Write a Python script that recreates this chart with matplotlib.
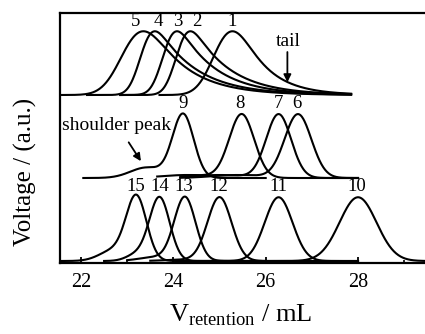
import numpy as np
import matplotlib
matplotlib.use('Agg')
import matplotlib.pyplot as plt
from matplotlib.ticker import MultipleLocator
from math import erfc

plt.rcParams['font.family'] = 'Liberation Serif'
plt.rcParams['mathtext.fontset'] = 'custom'
plt.rcParams['mathtext.rm'] = 'Liberation Serif'

# peak height of every trace (a.u.) and the offsets of the three stacks
peak_height = 2.55
top_base = 6.72
mid_base = 3.40
bot_base = 0.08

# top stack: tailing peaks 1-5
top_labels = ['1', '2', '3', '4', '5']
top_modes = [25.28, 24.37, 24.08, 23.60, 23.35]
top_sigmas = [0.32, 0.21, 0.21, 0.21, 0.36]
top_taus = [0.60, 0.80, 0.80, 0.85, 0.80]
top_starts = [23.70, 22.85, 22.85, 22.13, 21.55]
top_ends = [27.85, 27.85, 27.85, 27.85, 27.85]
top_label_x = [25.27, 24.51, 24.10, 23.67, 23.19]

# middle stack: peaks 6-9, 9 has a shoulder on the front side
mid_labels = ['6', '7', '8', '9']
mid_modes = [26.70, 26.28, 25.48, 24.21]
mid_sigmas = [0.29, 0.27, 0.27, 0.23]
mid_starts = [24.15, 24.15, 23.65, 22.05]
mid_ends = [28.0, 28.0, 28.0, 26.0]
mid_label_x = [26.68, 26.27, 25.45, 24.21]
# small front components (centre, sigma, height) for each middle trace
mid_front_c = [25.40, 25.00, 24.30, 23.42]
mid_front_s = [0.55, 0.55, 0.55, 0.35]
mid_front_h = [0.12, 0.12, 0.12, 0.42]

# bottom stack: peaks 10-15
bot_labels = ['10', '11', '12', '13', '14', '15']
bot_modes = [28.0, 26.28, 25.0, 24.25, 23.70, 23.20]
bot_sigmas = [0.40, 0.30, 0.26, 0.23, 0.22, 0.22]
bot_starts = [26.0, 24.5, 23.5, 23.0, 22.5, 21.55]
bot_ends = [29.9, 28.0, 28.0, 26.0, 26.0, 25.9]
bot_label_x = [27.98, 26.27, 24.99, 24.23, 23.71, 23.19]
bot_front_c = [27.0, 25.3, 24.2, 23.60, 23.20, 22.70]
bot_front_s = [0.4, 0.4, 0.4, 0.35, 0.22, 0.30]
bot_front_h = [0.0, 0.0, 0.05, 0.15, 0.25, 0.42]

x_ticks = [22, 24, 26, 28]


def gauss(x, c, s, h):
    return h * np.exp(-0.5 * ((x - c) / s) ** 2)


def emg(x, mu, s, tau):
    z = (s / tau - (x - mu) / s) / np.sqrt(2)
    return np.exp(0.5 * (s / tau) ** 2 - (x - mu) / tau) * np.array([erfc(v) for v in z])


def tailed_peak(x, mode, s, tau, h):
    # exponentially modified gaussian, shifted so its maximum sits at mode
    g = np.linspace(-4, 4, 4001)
    f = emg(g, 0, s, tau)
    shift = g[np.argmax(f)]
    return h * emg(x, mode - shift, s, tau) / f.max()


fig = plt.figure(figsize=(4.25, 3.34), dpi=100)
ax = fig.add_axes([60 / 425, 71 / 334, 385 / 425, 250 / 334])
lw = 1.5

for i in range(len(top_labels)):
    x = np.linspace(top_starts[i], top_ends[i], 400)
    y = tailed_peak(x, top_modes[i], top_sigmas[i], top_taus[i], peak_height)
    ax.plot(x, y + top_base, color='k', lw=lw)
    ax.text(top_label_x[i], top_base + peak_height + 0.05, top_labels[i],
            ha='center', va='bottom', fontsize=13.5)

for i in range(len(mid_labels)):
    x = np.linspace(mid_starts[i], mid_ends[i], 400)
    y = gauss(x, mid_modes[i], mid_sigmas[i], peak_height)
    y += gauss(x, mid_front_c[i], mid_front_s[i], mid_front_h[i])
    ax.plot(x, y + mid_base, color='k', lw=lw)
    ax.text(mid_label_x[i], mid_base + peak_height + 0.08, mid_labels[i],
            ha='center', va='bottom', fontsize=13.5)

for i in range(len(bot_labels)):
    x = np.linspace(bot_starts[i], bot_ends[i], 400)
    y = gauss(x, bot_modes[i], bot_sigmas[i], peak_height)
    y += gauss(x, bot_front_c[i], bot_front_s[i], bot_front_h[i])
    ax.plot(x, y + bot_base, color='k', lw=lw)
    ax.text(bot_label_x[i], bot_base + peak_height + 0.08, bot_labels[i],
            ha='center', va='bottom', fontsize=13.5)

# annotations
ax.text(26.49, 8.88, 'tail', ha='center', va='center', fontsize=14)
ax.annotate('', xy=(26.47, 7.12), xytext=(26.47, 8.55),
            arrowprops=dict(arrowstyle='-|>', color='k', lw=1.3, mutation_scale=11))
ax.text(21.59, 5.48, 'shoulder peak', ha='left', va='center', fontsize=14)
ax.annotate('', xy=(23.33, 3.98), xytext=(23.0, 4.92),
            arrowprops=dict(arrowstyle='-|>', color='k', lw=1.3, mutation_scale=11))

ax.set_xlim(21.545, 21.545 + 385 / 46.17)
ax.set_ylim(0, 10)
ax.set_xticks(x_ticks)
ax.xaxis.set_minor_locator(MultipleLocator(1))
ax.set_yticks([])
ax.tick_params(axis='x', which='major', direction='in', length=4, width=1.3,
               labelsize=14.5, pad=7)
ax.tick_params(axis='x', which='minor', direction='in', length=2.5, width=1.2)
for sp in ax.spines.values():
    sp.set_linewidth(1.6)

fig.text(25 / 425, 1 - 172 / 334, 'Voltage / (a.u.)', rotation=90,
         ha='center', va='center', fontsize=18)
fig.text(241 / 425, 1 - 322 / 334, r'$\mathrm{V}_{\mathrm{retention}}$ / mL',
         ha='center', va='baseline', fontsize=19)

fig.savefig('out.png', dpi=100)
